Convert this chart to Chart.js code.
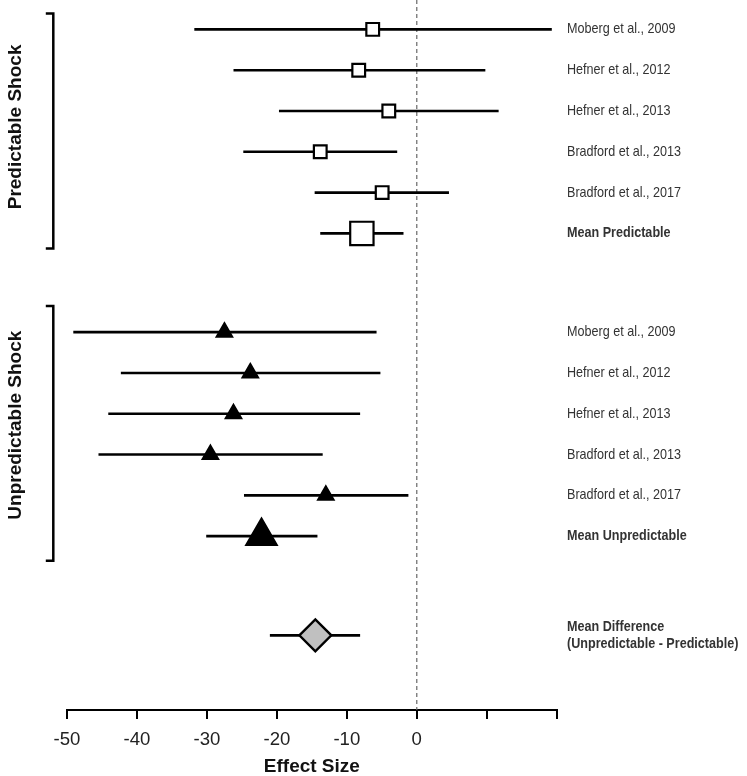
<!DOCTYPE html>
<html>
<head>
<meta charset="utf-8">
<script src="https://cdn.jsdelivr.net/npm/chart.js@4/dist/chart.umd.min.js"></script>
<style>
  html, body { margin: 0; padding: 0; background: #fff; }
  #wrap { width: 747px; height: 776px; }
</style>
</head>
<body>
<div id="wrap"><canvas id="c" width="747" height="776"></canvas></div>
<script>
// ---------------- DATA ----------------
const studies = ['Moberg et al., 2009', 'Hefner et al., 2012', 'Hefner et al., 2013', 'Bradford et al., 2013', 'Bradford et al., 2017'];
const groupNames = ['Predictable Shock', 'Unpredictable Shock'];
const meanLabels = ['Mean Predictable', 'Mean Unpredictable'];

const predEst = [-6.3, -8.3, -4.0, -13.8, -4.95];
const predLo  = [-31.8, -26.2, -19.7, -24.8, -14.6];
const predHi  = [19.3, 9.8, 11.7, -2.8, 4.6];
const predMean = [-7.85, -13.8, -1.9];        // estimate, lower, upper

const unpredEst = [-27.5, -23.8, -26.2, -29.5, -13.0];
const unpredLo  = [-49.1, -42.3, -44.1, -45.5, -24.7];
const unpredHi  = [-5.75, -5.2, -8.1, -13.45, -1.2];
const unpredMean = [-22.2, -30.1, -14.2];

const diffLabel = ['Mean Difference', '(Unpredictable - Predictable)'];
const diffMean = [-14.5, -21.0, -8.1];

const tickValues = [-50, -40, -30, -20, -10, 0, 10, 20];
const tickLabels = ['-50', '-40', '-30', '-20', '-10', '0', '', ''];
const xTitle = 'Effect Size';

// ---------------- LAYOUT (row positions on the vertical scale) ----------------
const groupStride = 7.42;
const diffRow = 14.85;
const yMin = -0.72, yMax = 16.68;
const bracketExt = [[-0.39, 5.37], [-0.64, 5.6]];
const groupLabelCenter = [2.39, 2.28];

function rowPos(g, i) { return g * groupStride + i; }

// ---------------- BUILD DATASETS ----------------
const datasets = [];
datasets.push({
  type: 'line', order: 3,
  data: [{x: 0, y: yMin}, {x: 0, y: yMax}],
  borderColor: '#666', borderWidth: 1.2, borderDash: [4, 3], pointRadius: 0
});
const groups = [
  {est: predEst, lo: predLo, hi: predHi, mean: predMean, style: 'rect', fill: '#fff', r: 9, rMean: 16.5},
  {est: unpredEst, lo: unpredLo, hi: unpredHi, mean: unpredMean, style: 'triangle', fill: '#000', r: 8.8, rMean: 17.5}
];
function addBar(lo, hi, y) {
  datasets.push({
    type: 'line', order: 2,
    data: [{x: lo, y: y}, {x: hi, y: y}],
    borderColor: '#000', borderWidth: 2.6, pointRadius: 0, borderCapStyle: 'butt'
  });
}
groups.forEach((G, g) => {
  const pts = [], radii = [];
  G.est.forEach((v, i) => {
    addBar(G.lo[i], G.hi[i], rowPos(g, i));
    pts.push({x: v, y: rowPos(g, i)}); radii.push(G.r);
  });
  addBar(G.mean[1], G.mean[2], rowPos(g, 5));
  pts.push({x: G.mean[0], y: rowPos(g, 5)}); radii.push(G.rMean);
  datasets.push({
    type: 'scatter', order: 1, data: pts,
    pointStyle: G.style, pointRadius: radii, pointBackgroundColor: G.fill,
    pointBorderColor: '#000', pointBorderWidth: 2.2
  });
});
addBar(diffMean[1], diffMean[2], diffRow);
datasets.push({
  type: 'scatter', order: 1, data: [{x: diffMean[0], y: diffRow}],
  pointStyle: 'rectRot', pointRadius: 16, pointBackgroundColor: '#c0c0c0',
  pointBorderColor: '#000', pointBorderWidth: 2.4
});

// ---------------- ANNOTATION PLUGIN ----------------
const annot = {
  id: 'annot',
  afterDraw(chart) {
    const ctx = chart.ctx, ys = chart.scales.y, area = chart.chartArea;
    const textX = 567;
    function label(t, x, y, bold) {
      ctx.save();
      ctx.font = (bold ? 'bold ' : '') + '14.4px "Liberation Sans", Arial, sans-serif';
      ctx.fillStyle = '#333';
      ctx.textBaseline = 'middle';
      ctx.textAlign = 'left';
      ctx.translate(x, y);
      ctx.scale(0.875, 1);
      ctx.fillText(t, 0, 0);
      ctx.restore();
    }
    for (let g = 0; g < 2; g++) {
      studies.forEach((s, i) => label(s, textX, ys.getPixelForValue(rowPos(g, i)), false));
      label(meanLabels[g], textX, ys.getPixelForValue(rowPos(g, 5)), true);
      // bracket
      const bx = area.left - 13.7;
      const t = ys.getPixelForValue(rowPos(g, 0) + bracketExt[g][0]);
      const b = ys.getPixelForValue(rowPos(g, 0) + bracketExt[g][1]);
      ctx.save();
      ctx.strokeStyle = '#000'; ctx.lineWidth = 2.5; ctx.lineJoin = 'miter';
      ctx.beginPath();
      ctx.moveTo(bx - 7.5, t); ctx.lineTo(bx, t); ctx.lineTo(bx, b); ctx.lineTo(bx - 7.5, b);
      ctx.stroke();
      ctx.restore();
      // group label
      ctx.save();
      ctx.font = 'bold 19px "Liberation Sans", Arial, sans-serif';
      ctx.fillStyle = '#111';
      ctx.textAlign = 'center';
      ctx.textBaseline = 'alphabetic';
      ctx.translate(20.5, ys.getPixelForValue(rowPos(g, 0) + groupLabelCenter[g]));
      ctx.rotate(-Math.PI / 2);
      ctx.fillText(groupNames[g], 0, 0);
      ctx.restore();
    }
    const dy = ys.getPixelForValue(diffRow);
    label(diffLabel[0], textX, dy - 8.3, true);
    label(diffLabel[1], textX, dy + 8.3, true);
  }
};

// ---------------- CHART ----------------
new Chart(document.getElementById('c'), {
  data: { datasets },
  plugins: [annot],
  options: {
    responsive: false,
    animation: false,
    events: [],
    layout: { autoPadding: false, padding: { left: 67, right: 190.3, top: 0, bottom: 0 } },
    plugins: { legend: { display: false }, tooltip: { enabled: false } },
    scales: {
      y: { type: 'linear', min: yMin, max: yMax, reverse: true, display: false },
      x: {
        type: 'linear', min: -50, max: 20, position: 'bottom',
        afterBuildTicks: s => { s.ticks = tickValues.map(v => ({value: v})); },
        afterFit: s => { s.height = 66; },
        grid: { display: true, drawOnChartArea: false, drawTicks: true, tickLength: 9, color: '#000', lineWidth: 2 },
        border: { display: true, color: '#000', width: 2 },
        ticks: {
          padding: 10, color: '#222',
          font: { size: 18.6, family: '"Liberation Sans", Arial, sans-serif' },
          maxRotation: 0, autoSkip: false,
          callback: (v) => { const k = tickValues.indexOf(v); return k >= 0 ? tickLabels[k] : ''; }
        },
        title: {
          display: true, text: xTitle, color: '#111', padding: { top: 0, bottom: 0 },
          font: { size: 19, weight: 'bold', family: '"Liberation Sans", Arial, sans-serif', lineHeight: 1.0 }
        }
      }
    }
  }
});
</script>
</body>
</html>
